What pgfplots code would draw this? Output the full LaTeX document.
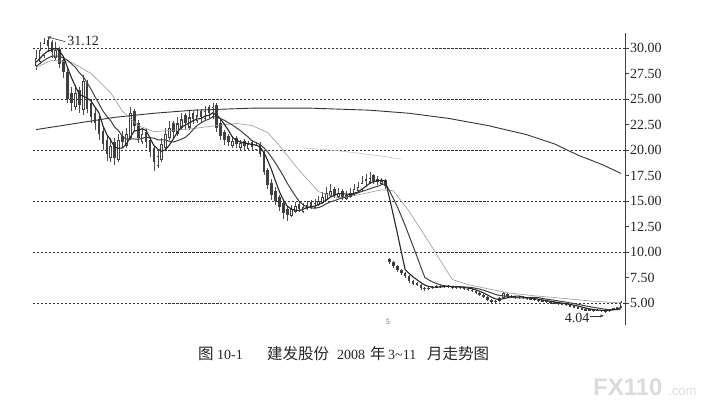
\documentclass[border=0pt]{standalone}
\usepackage{fontspec}
\setmainfont{Liberation Serif}
\newfontfamily\cjk{Noto Sans CJK SC}
\newfontfamily\wmfont{Liberation Sans}
\usepackage{pgfplots}
\usepackage{pgfplotstable}
\pgfplotsset{compat=1.18}
\usetikzlibrary{arrows.meta}

% daily candles: index, open, high, low, close
\pgfplotstableread{
i o h l c
0 28.2 29.8 27.8 29.0
1 28.6 30.6 28.4 29.8
2 29.2 31.0 29.0 30.5
3 30.8 31.12 29.6 30.2
4 30.6 30.8 29.0 29.6
5 29.0 30.6 28.8 29.8
6 29.9 30.1 28.0 28.4
7 28.8 29.2 27.1 27.6
8 27.6 27.9 24.6 25.0
9 25.6 26.2 23.8 24.6
10 24.2 26.4 23.9 25.6
11 25.9 26.2 23.6 24.4
12 23.9 27.4 23.4 26.8
13 26.6 26.9 23.6 24.0
14 24.6 25.0 22.6 23.2
15 23.6 24.2 22.0 22.6
16 23.0 23.3 21.0 21.6
17 21.9 22.4 20.0 20.6
18 21.0 21.4 18.9 19.6
19 19.2 21.2 18.8 20.4
20 20.8 21.2 18.5 19.2
21 19.0 21.6 18.8 21.0
22 21.4 21.9 20.2 20.8
23 20.4 22.2 20.2 21.6
24 21.2 24.2 21.0 23.6
25 23.8 24.0 21.8 22.4
26 22.6 22.9 20.7 21.2
27 20.8 22.2 20.6 21.6
28 21.8 22.1 20.2 20.8
29 21.0 21.3 19.3 19.8
30 20.2 20.4 17.9 18.8
31 18.4 20.0 18.2 19.4
32 19.0 21.2 18.8 20.6
33 20.2 22.2 20.0 21.6
34 21.2 22.8 21.0 22.2
35 22.6 22.8 21.2 21.8
36 21.6 23.2 21.4 22.6
37 22.2 23.6 22.0 23.0
38 23.4 23.6 22.0 22.6
39 22.2 23.8 22.0 23.2
40 23.6 23.8 22.5 23.0
41 22.8 24.0 22.6 23.4
42 23.8 24.0 22.7 23.2
43 23.0 24.3 22.8 23.8
44 24.2 24.4 23.1 23.6
45 23.2 24.6 23.0 24.2
46 24.4 24.6 21.8 22.2
47 22.6 22.9 21.0 21.4
48 21.8 22.0 20.5 21.0
49 21.4 21.6 20.4 20.8
50 20.4 21.4 20.2 20.9
51 21.2 21.4 20.2 20.6
52 20.2 21.0 20.0 20.7
53 20.9 21.1 20.0 20.4
54 20.1 20.9 19.9 20.6
55 20.8 21.0 19.9 20.3
56 20.0 20.8 19.9 20.5
57 20.6 20.8 19.3 19.6
58 19.8 20.0 17.5 17.8
59 18.0 18.2 16.2 16.6
60 16.8 17.2 15.1 15.6
61 16.0 16.4 14.6 15.0
62 15.4 15.6 14.0 14.4
63 14.8 15.0 13.2 13.8
64 14.2 14.5 13.0 13.6
65 13.5 14.6 13.4 14.2
66 13.9 14.9 13.8 14.5
67 14.7 14.9 13.9 14.2
68 13.9 14.8 13.8 14.4
69 14.2 15.0 14.1 14.6
70 14.9 15.1 14.2 14.5
71 14.3 15.2 14.2 14.8
72 14.6 15.5 14.5 15.0
73 14.8 15.9 14.7 15.4
74 15.1 16.4 15.0 15.8
75 15.5 16.7 15.4 16.0
76 16.2 16.4 15.3 15.6
77 15.4 16.3 15.3 15.8
78 16.0 16.2 15.1 15.4
79 15.2 16.0 15.1 15.6
80 15.4 16.3 15.3 15.8
81 15.6 16.7 15.5 16.2
82 16.0 16.9 15.9 16.4
83 16.1 17.4 16.0 16.8
84 17.1 17.6 16.5 17.0
85 16.8 17.8 16.7 17.3
86 17.5 17.6 16.7 17.0
87 17.2 17.4 16.6 16.9
88 16.7 17.3 16.6 17.0
89 17.1 17.2 16.2 16.5
90 9.3 9.4 8.8 9.0
91 9.0 9.1 8.4 8.6
92 8.6 8.7 8.0 8.2
93 8.2 8.3 7.7 7.9
94 7.9 8.0 7.4 7.6
95 7.6 7.7 7.0 7.2
96 7.2 7.3 6.8 6.9
97 6.9 7.1 6.7 6.8
98 6.8 6.9 6.3 6.5
99 6.5 6.6 6.2 6.4
100 6.4 6.6 6.3 6.5
101 6.5 6.7 6.4 6.6
102 6.6 6.8 6.5 6.7
103 6.7 6.8 6.5 6.6
104 6.6 6.8 6.5 6.7
105 6.7 6.8 6.5 6.6
106 6.6 6.7 6.4 6.5
107 6.5 6.7 6.4 6.6
108 6.6 6.7 6.4 6.5
109 6.5 6.6 6.3 6.4
110 6.4 6.5 6.2 6.3
111 6.3 6.4 6.1 6.2
112 6.2 6.3 5.9 6.0
113 6.0 6.1 5.7 5.8
114 5.8 5.9 5.5 5.6
115 5.6 5.7 5.2 5.3
116 5.3 5.4 4.9 5.1
117 5.1 5.3 5.0 5.2
118 5.2 5.6 5.1 5.5
119 5.5 6.1 5.4 6.0
120 5.9 6.0 5.6 5.7
121 5.7 5.8 5.5 5.6
122 5.6 5.7 5.4 5.5
123 5.5 5.7 5.4 5.6
124 5.6 5.7 5.4 5.5
125 5.5 5.6 5.3 5.4
126 5.4 5.5 5.3 5.4
127 5.4 5.5 5.2 5.3
128 5.3 5.4 5.1 5.2
129 5.2 5.3 5.1 5.2
130 5.2 5.3 5.0 5.1
131 5.1 5.2 4.9 5.0
132 5.0 5.1 4.9 5.0
133 5.0 5.1 4.8 4.9
134 4.9 5.0 4.8 4.9
135 4.9 5.0 4.7 4.8
136 4.8 4.9 4.6 4.7
137 4.7 4.8 4.5 4.6
138 4.6 4.7 4.4 4.5
139 4.5 4.6 4.3 4.4
140 4.4 4.5 4.2 4.3
141 4.3 4.4 4.2 4.3
142 4.3 4.4 4.15 4.25
143 4.25 4.4 4.2 4.3
144 4.3 4.35 4.15 4.25
145 4.25 4.3 4.04 4.2
146 4.2 4.45 4.15 4.4
147 4.4 4.55 4.35 4.5
148 4.5 4.65 4.45 4.6
149 4.6 5.15 4.55 5.1
}\kdata

\newcommand\lat{\fontsize{14bp}{16bp}\selectfont}
\newcommand\han{\fontsize{15.5bp}{18bp}\selectfont\cjk}

\begin{document}
\begin{tikzpicture}
\path[use as bounding box] (0,0) rectangle (714bp,408bp);
\begin{axis}[
    at={(33bp,83bp)}, anchor=south west,
    scale only axis, width=592bp, height=292bp,
    xmin=-0.8, xmax=150,
    ymin=2.84, ymax=31.47,
    axis x line=none,
    axis y line*=right,
    axis line style={black!75, line width=0.6pt},
    ytick={5,7.5,10,12.5,15,17.5,20,22.5,25,27.5,30},
    extra y ticks={5,10,15,20,25,30},
    extra y tick labels={},
    extra y tick style={grid=major, major tick length=0pt},
    major grid style={black!80, line width=0.5pt, dash pattern=on 2.2pt off 1.8pt},
    tick align=outside,
    major tick length=4bp,
    tick style={black!75, line width=0.6pt},
    scaled y ticks=false,
    yticklabel style={font=\lat, text=black!85, inner sep=1pt},
    /pgf/number format/fixed,
    /pgf/number format/fixed zerofill,
    /pgf/number format/precision=2,
    /pgf/number format/assume math mode=true,
]

% wicks
\addplot[draw=none, mark=none, forget plot,
    error bars/.cd, y dir=both, y explicit, error mark=none,
    error bar style={draw=black!70, line width=0.6bp, line cap=butt}]
    table[x=i, y expr={(\thisrow{h}+\thisrow{l})/2},
          y error expr={(\thisrow{h}-\thisrow{l})/2}] {\kdata};
% bodies
\addplot[draw=none, mark=none, forget plot,
    error bars/.cd, y dir=both, y explicit, error mark=none,
    error bar style={draw=black!75, line width=2.6bp, line cap=butt}]
    table[x=i, y expr={(\thisrow{o}+\thisrow{c})/2},
          y error expr={max(abs(\thisrow{c}-\thisrow{o})/2,0.06)}] {\kdata};
% hollow up days
\addplot[draw=none, mark=none, forget plot,
    error bars/.cd, y dir=both, y explicit, error mark=none,
    error bar style={draw=white, line width=1.1bp, line cap=butt}]
    table[x=i, y expr={(\thisrow{o}+\thisrow{c})/2},
          y error expr={(\thisrow{c}>\thisrow{o})*max((\thisrow{c}-\thisrow{o})/2-0.12,0)}] {\kdata};

% MA250
\addplot[black!80, line width=0.9bp] coordinates {
(0,22.0)(10,22.6)(20,23.2)(30,23.6)(40,23.9)(55,24.1)(70,24.1)(85,23.9)
(95,23.6)(105,23.1)(115,22.4)(125,21.5)(132,20.6)(138,19.5)(144,18.6)(149,17.7)};
% MA60 (faint)
\addplot[black!25, line width=0.5bp] coordinates {
(68,20.2)(75,20.0)(82,19.7)(88,19.4)(93,19.1)};
% MA30
\addplot[black!40, line width=0.6bp] coordinates {
(0,28.1)(4,28.8)(9,28.6)(14,27.5)(19,25.6)(22,23.8)(26,22.4)(30,21.8)(34,21.9)
(40,22.1)(46,22.4)(51,22.6)(55,22.4)(59,21.7)(62,20.4)(67,18.0)(72,15.9)(77,15.3)
(82,15.6)(88,16.1)(91,16.0)(95,14.0)(100,11.0)(106,7.3)(110,6.8)(115,6.4)(120,6.0)
(127,5.7)(133,5.5)(141,5.2)(149,5.0)};
% MA10
\addplot[black!75, line width=1.0bp] coordinates {
(0,28.2)(2,28.8)(4,29.2)(6,29.2)(8,28.8)(9,28.45)(10,28.11)(11,27.57)(12,27.20)
(13,26.58)(14,25.94)(15,25.22)(16,24.54)(17,23.84)(18,23.30)(19,22.88)(20,22.24)
(21,21.90)(22,21.30)(23,21.06)(24,21.10)(25,21.08)(26,21.04)(27,21.14)(28,21.26)
(29,21.20)(30,21.16)(31,21.00)(32,20.98)(33,20.98)(34,20.84)(35,20.78)(36,20.92)
(37,21.06)(38,21.24)(39,21.58)(40,22.00)(41,22.40)(42,22.66)(43,22.88)(44,23.02)
(45,23.26)(46,23.22)(47,23.06)(48,22.90)(49,22.66)(50,22.45)(51,22.17)(52,21.92)
(53,21.58)(54,21.28)(55,20.89)(56,20.72)(57,20.54)(58,20.22)(59,19.80)(60,19.27)
(61,18.71)(62,18.08)(63,17.42)(64,16.72)(65,16.11)(66,15.51)(67,14.97)(68,14.63)
(69,14.43)(70,14.32)(71,14.30)(72,14.36)(73,14.52)(74,14.74)(75,14.92)(76,15.03)
(77,15.19)(78,15.29)(79,15.39)(80,15.52)(81,15.66)(82,15.80)(83,15.94)(84,16.06)
(85,16.19)(86,16.33)(87,16.44)(88,16.60)(89,16.69)(90,16.01)(91,15.25)(92,14.43)
(93,13.54)(94,12.60)(95,11.59)(96,10.58)(97,9.57)(98,8.52)(99,7.51)(100,7.26)
(101,7.06)(102,6.91)(103,6.78)(104,6.69)(105,6.63)(106,6.59)(107,6.57)(108,6.57)
(109,6.57)(110,6.55)(111,6.51)(112,6.44)(113,6.36)(114,6.25)(115,6.12)(116,5.98)
(117,5.84)(118,5.74)(119,5.70)(120,5.64)(121,5.58)(122,5.53)(123,5.51)(124,5.50)
(125,5.51)(126,5.54)(127,5.55)(128,5.52)(129,5.44)(130,5.38)(131,5.32)(132,5.27)
(133,5.20)(134,5.14)(135,5.08)(136,5.01)(137,4.94)(138,4.87)(139,4.79)(140,4.71)
(141,4.64)(142,4.57)(143,4.51)(144,4.44)(145,4.38)(146,4.35)(147,4.34)(148,4.35)
(149,4.42)};
% MA5
\addplot[black!85, line width=1.1bp] coordinates {
(0,28.6)(1,29.0)(2,29.4)(3,29.7)(4,29.82)(5,29.98)(6,29.70)(7,29.12)(8,28.08)
(9,27.08)(10,26.24)(11,25.44)(12,25.28)(13,25.08)(14,24.80)(15,24.20)(16,23.64)
(17,22.40)(18,21.52)(19,20.96)(20,20.28)(21,20.16)(22,20.20)(23,20.60)(24,21.24)
(25,21.88)(26,21.92)(27,22.08)(28,21.92)(29,21.16)(30,20.44)(31,20.08)(32,19.88)
(33,20.04)(34,20.52)(35,21.12)(36,21.76)(37,22.24)(38,22.44)(39,22.64)(40,22.88)
(41,23.04)(42,23.08)(43,23.32)(44,23.40)(45,23.64)(46,23.40)(47,23.04)(48,22.48)
(49,21.92)(50,21.26)(51,20.94)(52,20.80)(53,20.68)(54,20.64)(55,20.52)(56,20.50)
(57,20.28)(58,19.76)(59,18.96)(60,18.02)(61,16.92)(62,15.88)(63,15.08)(64,14.48)
(65,14.20)(66,14.10)(67,14.06)(68,14.18)(69,14.38)(70,14.44)(71,14.50)(72,14.66)
(73,14.86)(74,15.10)(75,15.40)(76,15.56)(77,15.72)(78,15.72)(79,15.68)(80,15.64)
(81,15.76)(82,15.88)(83,16.16)(84,16.44)(85,16.74)(86,16.90)(87,17.00)(88,17.04)
(89,16.94)(90,15.28)(91,13.60)(92,11.86)(93,10.04)(94,8.26)(95,7.90)(96,7.56)
(97,7.28)(98,7.00)(99,6.76)(100,6.62)(101,6.56)(102,6.54)(103,6.56)(104,6.62)
(105,6.64)(106,6.62)(107,6.60)(108,6.58)(109,6.52)(110,6.46)(111,6.40)(112,6.28)
(113,6.14)(114,5.98)(115,5.78)(116,5.56)(117,5.40)(118,5.34)(119,5.42)(120,5.50)
(121,5.60)(122,5.66)(123,5.68)(124,5.58)(125,5.52)(126,5.48)(127,5.44)(128,5.36)
(129,5.30)(130,5.24)(131,5.16)(132,5.10)(133,5.04)(134,4.98)(135,4.92)(136,4.86)
(137,4.78)(138,4.70)(139,4.60)(140,4.50)(141,4.42)(142,4.35)(143,4.31)(144,4.28)
(145,4.26)(146,4.28)(147,4.33)(148,4.39)(149,4.56)};

% high / low annotations
\node[anchor=west, inner sep=0pt, font=\lat, text=black!85] at (axis cs:7.9,30.69) {31.12};
\draw[black!80, line width=0.6bp, -{Stealth[length=4bp,width=3bp]}]
    (axis cs:7.4,30.62) -- (axis cs:2.8,31.1);
\node[anchor=east, inner sep=0pt, font=\lat, text=black!85] at (axis cs:141.0,3.58) {4.04};
\draw[black!80, line width=0.6bp, -{Stealth[length=4bp,width=3bp]}]
    (axis cs:141.2,3.73) -- (axis cs:144.6,3.73);
\node[inner sep=0pt, font=\fontsize{8bp}{9bp}\selectfont, text=black!60] at (axis cs:89.6,3.14) {5};
\end{axis}

% caption
\node[anchor=base west, inner sep=0pt, text=black!85] at (198bp,48.5bp) {\han 图};
\node[anchor=base west, inner sep=0pt, text=black!85] at (217bp,48.5bp) {\lat 10-1};
\node[anchor=base west, inner sep=0pt, text=black!85] at (267bp,48.5bp) {\han 建发股份};
\node[anchor=base west, inner sep=0pt, text=black!85] at (337bp,48.5bp) {\lat 2008};
\node[anchor=base west, inner sep=0pt, text=black!85] at (370bp,48.5bp) {\han 年};
\node[anchor=base west, inner sep=0pt, text=black!85] at (388bp,48.5bp) {\lat 3\textasciitilde 11};
\node[anchor=base west, inner sep=0pt, text=black!85] at (427bp,48.5bp) {\han 月走势图};

% watermark
\node[anchor=base west, inner sep=0pt, text=black!14] at (593bp,13bp)
    {\wmfont\bfseries\fontsize{24bp}{26bp}\selectfont FX110};
\node[anchor=base west, inner sep=0pt, text=black!14] at (668bp,13bp)
    {\wmfont\fontsize{13bp}{15bp}\selectfont .com};
\end{tikzpicture}
\end{document}
